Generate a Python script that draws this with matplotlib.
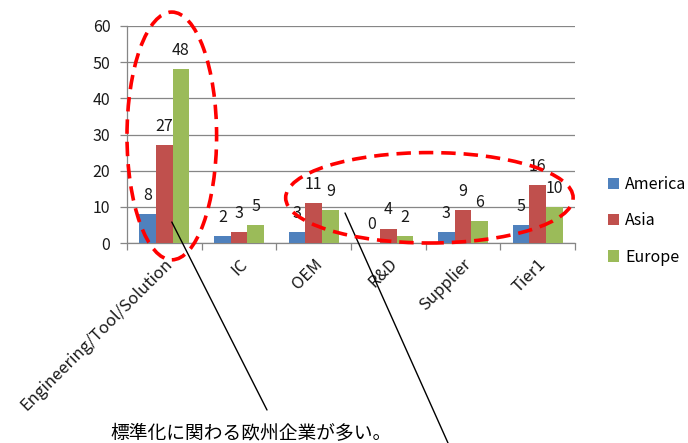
import matplotlib
matplotlib.use("Agg")
import matplotlib.pyplot as plt
from matplotlib.patches import Ellipse
import numpy as np

plt.rcParams['font.family'] = ['Noto Sans CJK JP', 'DejaVu Sans']

categories = ["Engineering/Tool/Solution", "IC", "OEM", "R&D", "Supplier", "Tier1"]
america = [8, 2, 3, 0, 3, 5]
asia = [27, 3, 11, 4, 9, 16]
europe = [48, 5, 9, 2, 6, 10]
series_names = ["America", "Asia", "Europe"]
colors = ["#4F81BD", "#C0504D", "#9BBB59"]
note_text = "標準化に関わる欧州企業が多い。"

W, H = 688, 443
fig = plt.figure(figsize=(W / 100, H / 100), dpi=100)
ax = fig.add_axes([127 / W, 1 - 243 / H, (575 - 127) / W, (243 - 26) / H])

x = np.arange(len(categories))
bw = 1 / 4.5
for i, (vals, name, c) in enumerate(zip([america, asia, europe], series_names, colors)):
    pos = x + (i - 1) * bw
    ax.bar(pos, vals, width=bw, color=c, label=name, zorder=3)
    for px, v in zip(pos, vals):
        ax.annotate(str(v), (px, v), xytext=(0, 13.5), textcoords="offset points",
                    ha="center", va="center", fontsize=11.5, color="#1a1a1a", zorder=5)

ax.set_xlim(-0.5, len(categories) - 0.5)
ax.set_ylim(0, 60)
ax.set_yticks(np.arange(0, 61, 10))
ax.yaxis.grid(True, color="#868686", linewidth=0.9, zorder=0)
ax.set_axisbelow(True)

for s in ["top", "right"]:
    ax.spines[s].set_visible(False)
for s in ["left", "bottom"]:
    ax.spines[s].set_color("#868686")
    ax.spines[s].set_linewidth(0.9)

ax.tick_params(axis="y", length=5, width=0.9, color="#868686", pad=7,
               labelsize=11.5, labelcolor="#1a1a1a")
ax.set_xticks(x)
ax.set_xticklabels(categories, rotation=45, ha="right", va="top",
                   rotation_mode="anchor", fontsize=12, color="#1a1a1a")
ax.tick_params(axis="x", which="major", length=0, pad=9)
ax.set_xticks(np.arange(-0.5, len(categories)), minor=True)
ax.tick_params(axis="x", which="minor", length=5, width=0.9, color="#868686")

# legend on the right
ax.legend(loc="center left", bbox_to_anchor=(597 / W, 1 - 221 / H),
          bbox_transform=fig.transFigure, frameon=False, fontsize=11.5,
          handlelength=0.7, handleheight=0.7, handletextpad=0.35,
          labelspacing=1.2, borderpad=0.2)

# highlight ellipses
ell_style = dict(fill=False, edgecolor="#FF0000", linewidth=2.6,
                 linestyle=(0, (4, 2.2)), clip_on=False, zorder=6)
ax.add_patch(Ellipse((0.1, 29.6), 1.2, 68.5, **ell_style))
ax.add_patch(Ellipse((3.55, 12.5), 3.85, 25.0, **ell_style))

# note with pointer lines
fig.text(110 / W, 1 - 434 / H, note_text, fontsize=13.5, ha="left", va="center",
         color="#000000")
ax.annotate("", xy=(0.1, 5.8), xycoords="data",
            xytext=(267 / W, 1 - 410 / H), textcoords="figure fraction",
            arrowprops=dict(arrowstyle="-", color="black", linewidth=1.0,
                            shrinkA=0, shrinkB=0), annotation_clip=False)
ax.annotate("", xy=(2.42, 8.3), xycoords="data",
            xytext=(448 / W, 1 - 443 / H), textcoords="figure fraction",
            arrowprops=dict(arrowstyle="-", color="black", linewidth=1.0,
                            shrinkA=0, shrinkB=0), annotation_clip=False)

fig.savefig("out.png", dpi=100)
